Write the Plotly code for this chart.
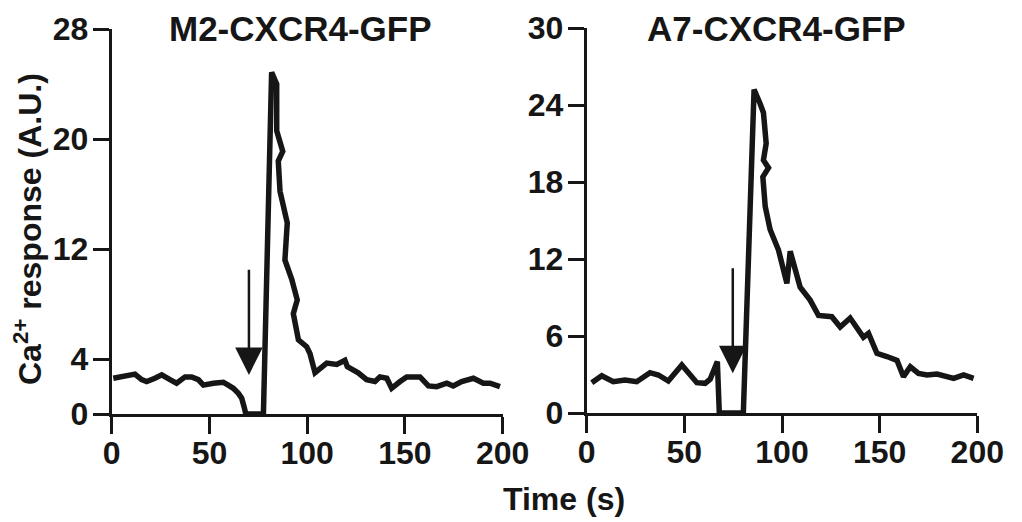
import plotly.graph_objects as go

# ---------------- data ----------------
m2_time = [0.8, 5.9, 11.9, 15.3, 17.9, 22.1, 25.6, 29.8, 33.2, 37.5, 40.9, 44.3, 46.9, 52.0,
           57.1, 59.6, 62.2, 64.8, 66.5, 67.7, 68.2, 68.6, 77.6,
           81.8, 84.4, 84.4, 87.5, 85.2, 86.1, 88.6, 89.8, 88.6, 92.1, 94.9, 92.9, 95.5, 99.7,
           101.4, 104.0, 110.0, 115.1, 119.3, 120.5, 126.1, 130.4, 134.7, 137.2, 140.7, 143.2,
           147.5, 150.9, 157.7, 162.0, 166.2, 171.4, 174.7, 179.0, 185.0, 190.1, 193.5, 198.6]
m2_ca = [2.6, 2.7, 2.9, 2.5, 2.36, 2.6, 2.85, 2.5, 2.24, 2.7, 2.7, 2.5, 2.1, 2.24,
         2.3, 2.1, 1.87, 1.5, 1.15, 0.53, 0.24, 0.0, 0.0,
         24.85, 24.0, 20.6, 19.1, 18.4, 16.2, 14.5, 13.9, 11.2, 9.8, 8.3, 7.3, 5.4, 4.9,
         4.4, 3.0, 3.7, 3.6, 3.9, 3.45, 3.0, 2.5, 2.36, 2.7, 2.6, 1.87,
         2.36, 2.7, 2.7, 2.04, 1.99, 2.24, 2.04, 2.36, 2.6, 2.24, 2.24, 1.99]

a7_time = [2.6, 7.7, 13.6, 19.6, 25.6, 32.4, 36.7, 41.8, 48.7, 52.1, 56.4, 60.6, 63.2, 66.9,
           67.9, 80.2,
           85.7, 88.8, 90.5, 91.9, 90.5, 93.1, 90.2, 91.4, 93.9, 98.2, 100.7, 102.5, 104.2,
           109.3, 114.4, 118.7, 125.5, 129.8, 134.9, 141.7, 144.3, 148.6, 153.7, 158.9, 162.2,
           165.7, 169.9, 174.2, 179.4, 184.5, 187.9, 193.0, 198.1]
a7_ca = [2.36, 2.9, 2.44, 2.57, 2.44, 3.14, 2.96, 2.49, 3.74, 3.09, 2.36, 2.31, 2.63, 4.0,
         0.0, 0.0,
         25.2, 24.1, 23.4, 21.0, 19.7, 19.1, 18.4, 16.1, 14.3, 12.7, 11.4, 10.1, 12.6,
         9.8, 8.8, 7.6, 7.5, 6.7, 7.4, 5.9, 6.2, 4.65, 4.4, 4.1, 2.83,
         3.6, 3.09, 2.96, 3.04, 2.83, 2.7, 2.96, 2.7]

# arrows: (time, tail value, tip value)
m2_arrow = (70.2, 10.6, 2.84)
a7_arrow = (74.8, 11.4, 3.1)

x_ticks = [0, 50, 100, 150, 200]
m2_yticks = [0, 4, 12, 20, 28]
a7_yticks = [0, 6, 12, 18, 24, 30]

titles = ["M2-CXCR4-GFP", "A7-CXCR4-GFP"]

# ---------------- figure ----------------
INK = "#161616"
FONT = "Liberation Sans, Arial, Helvetica, sans-serif"
W, H = 1022, 522

fig = go.Figure()
fig.add_trace(go.Scatter(x=m2_time, y=m2_ca, mode="lines", xaxis="x", yaxis="y",
                         line=dict(color=INK, width=5.5), showlegend=False, hoverinfo="skip"))
fig.add_trace(go.Scatter(x=a7_time, y=a7_ca, mode="lines", xaxis="x2", yaxis="y2",
                         line=dict(color=INK, width=5.5), showlegend=False, hoverinfo="skip"))

tickfont = dict(family=FONT, size=32, color=INK, weight="bold")

def xax(domain):
    return dict(domain=domain, range=[0, 200], tickvals=x_ticks, ticks="outside",
                ticklen=17, tickwidth=3, tickcolor=INK, showline=True, linewidth=3,
                linecolor=INK, showgrid=False, zeroline=False, tickfont=tickfont,
                ticklabelstandoff=-8, automargin=False, fixedrange=True)

def yax(domain, rng, tv, anchor):
    return dict(domain=domain, range=rng, tickvals=tv, ticks="outside", anchor=anchor,
                ticklen=16, tickwidth=3, tickcolor=INK, showline=True, linewidth=3,
                linecolor=INK, showgrid=False, zeroline=False, tickfont=tickfont,
                ticklabelstandoff=-2, automargin=False, fixedrange=True)

fig.update_layout(
    width=W, height=H, template="none",
    margin=dict(l=0, r=0, t=0, b=0),
    paper_bgcolor="white", plot_bgcolor="white",
    xaxis=xax([111.7 / W, 502.7 / W]) | dict(anchor="y"),
    yaxis=yax([1 - 414 / H, 1 - 29 / H], [0, 28], m2_yticks, "x"),
    xaxis2=xax([586.7 / W, 977.3 / W]) | dict(anchor="y2"),
    yaxis2=yax([1 - 413 / H, 1 - 28 / H], [0, 30], a7_yticks, "x2"),
)

annos = []
for t, xc in zip(titles, [300, 776]):
    annos.append(dict(text=t, x=xc / W, y=1 - 28 / H, xref="paper", yref="paper",
                      xanchor="center", yanchor="middle", showarrow=False,
                      font=dict(family=FONT, size=35, color=INK, weight="bold")))
annos.append(dict(text="Time (s)", x=564 / W, y=1 - 499 / H, xref="paper", yref="paper",
                  xanchor="center", yanchor="middle", showarrow=False,
                  font=dict(family=FONT, size=32, color=INK, weight="bold")))
annos.append(dict(text="Ca<sup>2+</sup> response (A.U.)", x=28 / W, y=1 - 229 / H,
                  xref="paper", yref="paper", xanchor="center", yanchor="middle",
                  textangle=-90, showarrow=False,
                  font=dict(family=FONT, size=32, color=INK, weight="bold")))
for (ax_t, tail, tip), xr, yr in [(m2_arrow, "x", "y"), (a7_arrow, "x2", "y2")]:
    annos.append(dict(text="", x=ax_t, y=tip, ax=ax_t, ay=tail, xref=xr, yref=yr,
                      axref=xr, ayref=yr, showarrow=True, arrowhead=2, arrowsize=2.2,
                      arrowwidth=2.5, arrowcolor=INK, standoff=0))
fig.update_layout(annotations=annos)

fig.write_html(
    "out.html",
    config={"displayModeBar": False, "staticPlot": True},
    post_script="document.body.style.margin='0';document.body.style.overflow='hidden';",
)
